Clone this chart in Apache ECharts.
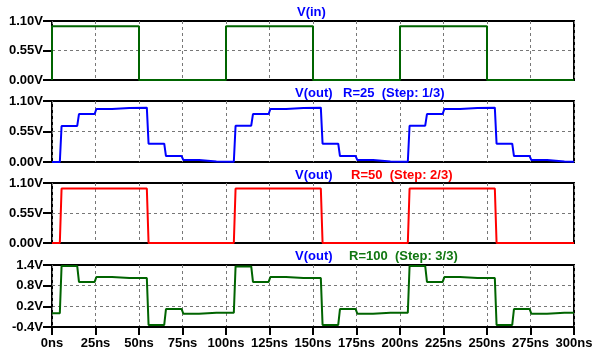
<!DOCTYPE html>
<html>
<head>
<meta charset="utf-8">
<script src="https://cdn.jsdelivr.net/npm/echarts@6/dist/echarts.min.js"></script>
<style>
html,body{margin:0;padding:0;background:#fff;}
#c{width:599px;height:358px;}
</style>
</head>
<body>
<div id="c"></div>
<script>
// ---- data ----
const timeTicks = [0, 25, 50, 75, 100, 125, 150, 175, 200, 225, 250, 275, 300];
const voltTicks = [0, 0.55, 1.1];
const voltTicks4 = [-0.4, 0.2, 0.8, 1.4];

// input square wave: edge times (ns) and level after each edge (V)
const vinEdges = [0, 50, 100, 150, 200, 250];
const vinLevels = [1.0, 0.0, 1.0, 0.0, 1.0, 0.0];

// output step times (ns): reflections every 10 ns after 5 ns delay
const outEdges = [5, 15, 25, 35, 45, 55, 65, 75, 85, 95,
                  105, 115, 125, 135, 145, 155, 165, 175, 185, 195,
                  205, 215, 225, 235, 245, 255, 265, 275, 285, 295];
// level after each step (V)
const r25Levels = [0.65, 0.865, 0.955, 0.975, 0.98, 0.33, 0.107, 0.035, 0.01, 0.005,
                   0.655, 0.865, 0.955, 0.975, 0.98, 0.33, 0.107, 0.035, 0.01, 0.005,
                   0.655, 0.865, 0.955, 0.975, 0.98, 0.33, 0.107, 0.035, 0.01, 0.005];
const r50Levels = [1.0, 1.0, 1.0, 1.0, 1.0, 0.0, 0.0, 0.0, 0.0, 0.0,
                   1.0, 1.0, 1.0, 1.0, 1.0, 0.0, 0.0, 0.0, 0.0, 0.0,
                   1.0, 1.0, 1.0, 1.0, 1.0, 0.0, 0.0, 0.0, 0.0, 0.0];
const r100Levels = [1.37, 0.91, 1.05, 1.02, 1.02, -0.34, 0.12, -0.015, 0.015, 0.015,
                    1.36, 0.91, 1.05, 1.02, 1.02, -0.34, 0.12, -0.015, 0.015, 0.015,
                    1.37, 0.91, 1.05, 1.02, 1.02, -0.34, 0.12, -0.015, 0.015, 0.015];

function steps(edges, levels, initial, rise) {
  const pts = [[0, initial]];
  let prev = initial;
  for (let i = 0; i < edges.length; i++) {
    const t = edges[i];
    pts.push([Math.max(0, t - rise / 2), prev]);
    pts.push([t + rise / 2, levels[i]]);
    prev = levels[i];
  }
  pts.push([300, prev]);
  return pts;
}

const FONT = '"Liberation Sans", Arial, sans-serif';
const grids = [
  {left: 52, right: 25, top: 21, height: 59},
  {left: 52, right: 25, top: 101, height: 61},
  {left: 52, right: 25, top: 183, height: 60},
  {left: 52, right: 25, top: 265, height: 62}
].map(g => Object.assign(g, {show: true, borderColor: '#000', borderWidth: 2, z: 1}));

const splitDash = {show: true, lineStyle: {color: '#777', width: 1, type: [3, 3]}};

const xAxes = grids.map((g, i) => ({
  type: 'value', gridIndex: i, min: 0, max: 300, position: 'bottom', z: 4,
  axisLine: {show: i === 3, onZero: i === 3, onZeroAxisIndex: i === 3 ? 4 : undefined,
             lineStyle: {color: '#000', width: 2}},
  axisTick: {show: i === 3, customValues: timeTicks, length: 8, inside: false,
             lineStyle: {color: '#000', width: 2}},
  axisLabel: {show: i === 3, customValues: timeTicks, margin: 10,
              formatter: v => v + 'ns', color: '#000', fontWeight: 'bold',
              fontSize: 13, fontFamily: FONT},
  splitLine: splitDash
}));

const yAxes = grids.map((g, i) => {
  const ticks = i === 3 ? voltTicks4 : voltTicks;
  return {
    type: 'value', gridIndex: i, position: 'left',
    min: ticks[0], max: ticks[ticks.length - 1],
    axisLine: {show: false, onZero: false},
    axisTick: {show: true, customValues: ticks, length: 9, lineStyle: {color: '#000', width: 2}},
    axisLabel: {customValues: ticks, margin: 9,
                formatter: v => (i === 3 ? v.toFixed(1) : v.toFixed(2)) + 'V',
                color: '#000', fontWeight: 'bold', fontSize: 13, fontFamily: FONT},
    splitLine: splitDash
  };
});
// helper axis in the bottom grid whose zero sits on the grid's bottom edge
yAxes.push({type: 'value', gridIndex: 3, min: 0, max: 1, show: false});

const mk = (i, data, color) => ({
  type: 'line', xAxisIndex: i, yAxisIndex: i, data: data,
  symbol: 'none', clip: false, z: 5,
  lineStyle: {color: color, width: 2}
});

function label(text, x, y, color) {
  return {type: 'text', x: x, y: y, z: 10,
    style: {text: text, fill: color, fontSize: 13, fontWeight: 'bold', fontFamily: FONT,
            align: 'left', verticalAlign: 'middle'}};
}

const chart = echarts.init(document.getElementById('c'), null, {renderer: 'canvas'});
chart.setOption({
  animation: false,
  backgroundColor: '#fff',
  grid: grids,
  xAxis: xAxes,
  yAxis: yAxes,
  series: [
    mk(0, steps(vinEdges, vinLevels, 0, 0), '#006400'),
    mk(1, steps(outEdges, r25Levels, 0, 1), '#0000ff'),
    mk(2, steps(outEdges, r50Levels, 0, 1), '#ff0000'),
    mk(3, steps(outEdges, r100Levels, 0, 1), '#006400')
  ],
  graphic: [
    label('V(in)', 297, 12, '#0000ff'),
    label('V(out)', 295, 93, '#0000ff'),
    label('R=25  (Step: 1/3)', 343, 93, '#0000ff'),
    label('V(out)', 295, 175, '#0000ff'),
    label('R=50  (Step: 2/3)', 351, 175, '#ff0000'),
    label('V(out)', 295, 256, '#0000ff'),
    label('R=100  (Step: 3/3)', 349, 256, '#117711')
  ]
});
</script>
</body>
</html>
